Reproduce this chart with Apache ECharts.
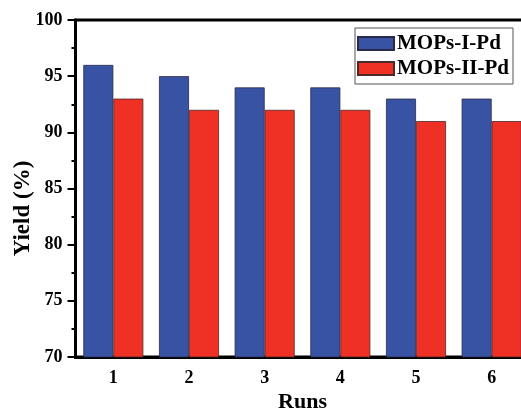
<!DOCTYPE html>
<html>
<head>
<meta charset="utf-8">
<script src="https://cdn.jsdelivr.net/npm/echarts@6/dist/echarts.min.js"></script>
<style>html,body{margin:0;padding:0;background:#fff}#c{width:521px;height:411px}</style>
</head>
<body>
<div id="c"></div>
<script>
var runs = ['1', '2', '3', '4', '5', '6'];
var mopsI = [96, 95, 94, 94, 93, 93];
var mopsII = [93, 92, 92, 92, 91, 91];
var seriesNames = ['MOPs-I-Pd', 'MOPs-II-Pd'];

var font = 'Liberation Serif';
var chart = echarts.init(document.getElementById('c'), null, {renderer: 'canvas'});
chart.setOption({
  animation: false,
  backgroundColor: '#fff',
  grid: {left: 75.5, top: 20, right: -8.5, bottom: 54, outerBoundsMode: 'none', containLabel: false,
    show: true, borderColor: '#000', borderWidth: 3, backgroundColor: 'transparent'},
  legend: {
    orient: 'vertical', left: 355, top: 28,
    icon: 'rect',
    itemWidth: 36, itemHeight: 13, itemGap: 4,
    padding: [5, 4, 5, 2],
    borderColor: '#555', borderWidth: 1,
    textStyle: {fontFamily: font, fontWeight: 'bold', fontSize: 21, color: '#000', padding: [0, 0, 0, -2]},
    data: seriesNames
  },
  xAxis: [{
    type: 'category', data: runs,
    name: 'Runs', nameLocation: 'middle', nameGap: 34, nameMoveOverlap: false,
    nameTextStyle: {fontFamily: font, fontWeight: 'bold', fontSize: 22, color: '#000'},
    axisLine: {lineStyle: {color: '#000', width: 3}},
    axisTick: {alignWithLabel: true, length: 7, lineStyle: {width: 2, color: '#000'}},
    axisLabel: {margin: 12, fontFamily: font, fontWeight: 'bold', fontSize: 18, color: '#000'}
  }, {
    type: 'category', data: runs, position: 'bottom', gridIndex: 0,
    axisLine: {show: false},
    axisTick: {length: 3, lineStyle: {width: 2, color: '#000'}},
    axisLabel: {show: false}
  }],
  yAxis: {
    type: 'value', min: 70, max: 100, interval: 5,
    name: 'Yield (%)', nameLocation: 'middle', nameGap: 41, nameMoveOverlap: false,
    nameTextStyle: {fontFamily: font, fontWeight: 'bold', fontSize: 23, color: '#000', padding: [0, 40, 0, 0]},
    axisLine: {show: true, lineStyle: {color: '#000', width: 3}},
    axisTick: {show: true, length: 8, lineStyle: {width: 2, color: '#000'}},
    minorTick: {show: true, splitNumber: 2, length: 4, lineStyle: {width: 2, color: '#000'}},
    splitLine: {show: false},
    axisLabel: {margin: 13, fontFamily: font, fontWeight: 'bold', fontSize: 18, color: '#000'}
  },
  series: [{
    name: seriesNames[0], type: 'bar', data: mopsI, barWidth: 30, barGap: '0%',
    itemStyle: {color: '#3953A4', borderColor: '#2a2a4a', borderWidth: 0.8}
  }, {
    name: seriesNames[1], type: 'bar', data: mopsII, barWidth: 30, barGap: '0%',
    itemStyle: {color: '#EE3124', borderColor: '#4a2a2a', borderWidth: 0.8}
  }]
});
</script>
</body>
</html>
